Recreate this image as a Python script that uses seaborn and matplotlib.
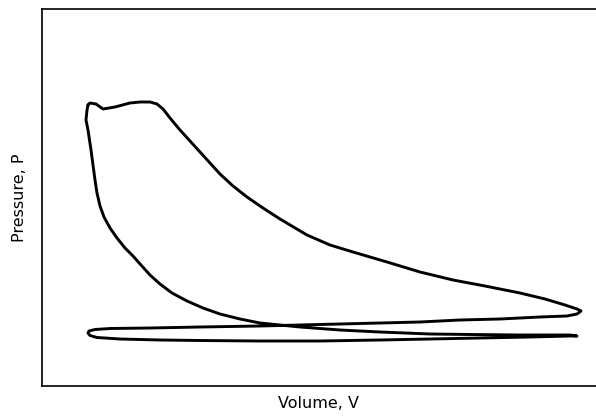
import matplotlib
matplotlib.use("Agg")
import matplotlib.pyplot as plt
import pandas as pd
import seaborn as sns

# Indicator (P-V) diagram of a four-stroke engine cycle, arbitrary units.
# Expansion stroke: from peak pressure at top dead centre out to bottom dead centre
expansion_v = [46, 48, 54, 61, 73, 88, 98, 108, 115, 121, 128, 138, 148, 158,
               168, 178, 191, 205, 221, 238, 265, 288, 311, 345, 378, 411, 443,
               478, 503, 523, 535, 539]
expansion_p = [281, 283, 282, 277, 279, 283, 284, 284, 282, 277, 268, 256, 245,
               234, 223, 212, 200, 189, 178, 167, 151, 141, 134, 124, 114, 106,
               100, 93, 87, 81, 77, 75]

# Exhaust stroke: piston returns at slightly above atmospheric pressure
exhaust_v = [535, 525, 498, 458, 418, 378, 338, 298, 258, 218, 158, 108, 68,
             53, 47, 46]
exhaust_p = [72, 70, 69, 67, 66, 64, 63, 62, 61, 60, 59, 58, 57.5, 56.5, 55, 53]

# Intake stroke: slightly below atmospheric pressure
intake_v = [48, 55, 78, 118, 158, 218, 278, 338, 388, 438, 488, 528, 535]
intake_p = [50.5, 48.5, 47, 46, 45.5, 45, 45, 46, 47, 48, 49, 50, 50]

# Compression stroke: back to top dead centre
compression_v = [528, 478, 428, 388, 338, 298, 258, 218, 198, 178, 161, 145,
                 130, 118, 108, 99, 91, 83, 75, 68, 62, 58, 55, 53, 51, 49,
                 46, 44, 45, 46]
compression_p = [51, 51, 51.5, 52, 54, 56, 59, 63, 67, 72, 78, 85, 93, 102,
                 111, 121, 130, 138, 148, 158, 169, 180, 193, 206, 221, 236,
                 256, 266, 276, 281]

V_MAX = 554
P_MAX = 377

cycle = pd.DataFrame({
    "Volume": expansion_v + exhaust_v + intake_v + compression_v,
    "Pressure": expansion_p + exhaust_p + intake_p + compression_p,
})

sns.set_theme(style="white")
plt.rcParams["font.family"] = ["DejaVu Sans"]

fig = plt.figure(figsize=(5.96, 4.17), dpi=100)
ax = fig.add_axes([42 / 596, 31 / 417, 1 - 42 / 596, (386 - 9) / 417])

sns.lineplot(data=cycle, x="Volume", y="Pressure", sort=False, estimator=None,
             color="black", linewidth=2.1, ax=ax)

ax.set_xlim(0, V_MAX)
ax.set_ylim(0, P_MAX)
ax.set_xticks([])
ax.set_yticks([])
for side in ("left", "bottom", "top"):
    ax.spines[side].set_color("black")
    ax.spines[side].set_linewidth(1.2)
ax.spines["right"].set_visible(False)

ax.set_xlabel("Volume, V", fontsize=11.5, color="black", labelpad=7)
ax.set_ylabel("Pressure, P", fontsize=11.5, color="black", labelpad=11)

fig.savefig("out.png", dpi=100, facecolor="white")
